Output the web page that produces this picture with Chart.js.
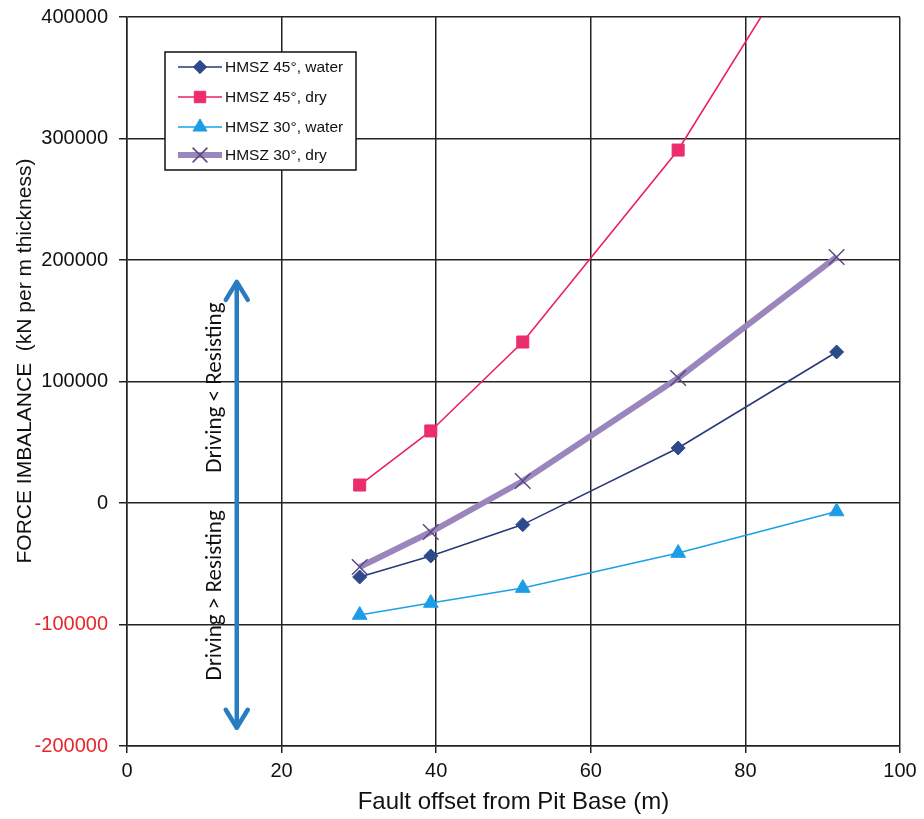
<!DOCTYPE html>
<html>
<head>
<meta charset="utf-8">
<script src="https://cdn.jsdelivr.net/npm/chart.js@4.4.1/dist/chart.umd.min.js"></script>
<style>
html,body{margin:0;padding:0;background:#fff;}
#wrap{position:relative;width:924px;height:819px;}
</style>
</head>
<body>
<div id="wrap"><canvas id="c" width="924" height="819"></canvas></div>
<script>
// ---- data ----
const faultOffset = [30.1, 39.3, 51.2, 71.3, 91.8];
const hmsz45Water = [-60900, -43600, -17800, 45300, 124300];
const hmsz45Dry   = [14800, 59300, 132500, 290500, 500000];
const hmsz30Water = [-92200, -82300, -70000, -41200, -7000];
const hmsz30Dry   = [-52700, -23900, 18100, 102900, 202500];
const seriesNames = ['HMSZ 45°, water', 'HMSZ 45°, dry', 'HMSZ 30°, water', 'HMSZ 30°, dry'];
const yTickValues = [-200000, -100000, 0, 100000, 200000, 300000, 400000];
const xTickValues = [0, 20, 40, 60, 80, 100];
const xTitle = 'Fault offset from Pit Base (m)';
const yTitle = '\u00A0\u00A0\u00A0\u00A0\u00A0\u00A0\u00A0FORCE IMBALANCE  (kN per m thickness)';
const arrowLabels = ['Driving < Resisting', 'Driving > Resisting'];

function pts(ys){ return faultOffset.map((x,i)=>({x:x, y:ys[i]})); }

const FONT = "'Liberation Sans', Arial, sans-serif";
const styles = [
  {line:'#283a78', fill:'#2f4a8c', pointStyle:'rectRot', r:7, bw:1.6, pbw:1},
  {line:'#ec1f64', fill:'#ec2d6c', pointStyle:'rect', r:8.5, bw:1.6, pbw:1},
  {line:'#1ea0e6', fill:'#1e9de6', pointStyle:'triangle', r:8.5, bw:1.6, pbw:1},
  {line:'#9a86bd', fill:'#5a4a80', pointStyle:'crossRot', r:11, bw:6, pbw:1.5}
];
const allSeries = [hmsz45Water, hmsz45Dry, hmsz30Water, hmsz30Dry];

const datasets = allSeries.map((ys,i)=>({
  label: seriesNames[i],
  data: pts(ys),
  borderColor: styles[i].line,
  borderWidth: styles[i].bw,
  backgroundColor: styles[i].fill,
  pointStyle: styles[i].pointStyle,
  pointRadius: styles[i].r,
  pointHoverRadius: styles[i].r,
  pointBackgroundColor: styles[i].fill,
  pointBorderColor: styles[i].fill,
  pointBorderWidth: styles[i].pbw,
  tension: 0,
  fill: false
}));

const legendPlugin = {
  id: 'boxLegend',
  afterDraw(chart){
    const ctx = chart.ctx;
    ctx.save();
    ctx.fillStyle = '#fff';
    ctx.fillRect(165, 52, 191, 118);
    ctx.strokeStyle = '#111';
    ctx.lineWidth = 1.5;
    ctx.strokeRect(165, 52, 191, 118);
    const rows = [67, 97, 127, 155];
    chart.data.datasets.forEach((ds,i)=>{
      const y = rows[i];
      ctx.strokeStyle = ds.borderColor;
      ctx.lineWidth = ds.borderWidth;
      ctx.beginPath(); ctx.moveTo(178, y); ctx.lineTo(222, y); ctx.stroke();
      ctx.fillStyle = ds.pointBackgroundColor;
      ctx.strokeStyle = ds.pointBorderColor;
      ctx.lineWidth = ds.pointBorderWidth;
      Chart.helpers.drawPoint(ctx, {pointStyle: ds.pointStyle, radius: ds.pointRadius*0.95, rotation:0, borderWidth: ds.pointBorderWidth}, 200, y);
      ctx.fillStyle = '#111';
      ctx.font = "15.5px " + FONT;
      ctx.textBaseline = 'middle';
      ctx.textAlign = 'left';
      ctx.fillText(ds.label, 225, y+1);
    });
    ctx.restore();
  }
};

const arrowPlugin = {
  id: 'arrow',
  afterDatasetsDraw(chart){
    const ctx = chart.ctx;
    const xs = chart.scales.x, ys = chart.scales.y;
    const x = xs.getPixelForValue(14.2);
    const yT = ys.getPixelForValue(182000);
    const yB = ys.getPixelForValue(-185000);
    ctx.save();
    ctx.strokeStyle = '#2a7cc2';
    ctx.lineWidth = 4.5;
    ctx.lineCap = 'round';
    ctx.lineJoin = 'round';
    ctx.beginPath(); ctx.moveTo(x, yT+2); ctx.lineTo(x, yB-2); ctx.stroke();
    ctx.beginPath(); ctx.moveTo(x-11, yT+18); ctx.lineTo(x, yT); ctx.lineTo(x+11, yT+18); ctx.stroke();
    ctx.beginPath(); ctx.moveTo(x-11, yB-18); ctx.lineTo(x, yB); ctx.lineTo(x+11, yB-18); ctx.stroke();
    ctx.fillStyle = '#111';
    ctx.font = "23px Carlito, Lato, 'Open Sans', sans-serif";
    ctx.textAlign = 'center';
    ctx.textBaseline = 'middle';
    const centers = [ys.getPixelForValue(95000), ys.getPixelForValue(-76000)];
    arrowLabels.forEach((t,i)=>{
      ctx.save();
      ctx.translate(x-22, centers[i]);
      ctx.rotate(-Math.PI/2);
      ctx.fillText(t, 0, 0);
      ctx.restore();
    });
    ctx.restore();
  }
};

new Chart(document.getElementById('c'), {
  type: 'line',
  data: { datasets },
  plugins: [arrowPlugin, legendPlugin],
  options: {
    responsive: false,
    animation: false,
    events: [],
    layout: { padding: { top: 17, right: 24, left: 0, bottom: 0 } },
    plugins: { legend: { display: false }, tooltip: { enabled: false } },
    scales: {
      x: {
        type: 'linear', min: 0, max: 100,
        afterBuildTicks(s){ s.ticks = xTickValues.map(v=>({value:v})); },
        afterFit(s){ s.height = 73; s.paddingLeft = 0; s.paddingRight = 0; },
        grid: { color: '#222', lineWidth: 1.5, tickLength: 7, drawTicks: true },
        border: { color: '#222', width: 1.5 },
        ticks: { color: '#111', font: { family: FONT, size: 20 }, padding: 6, maxRotation: 0 },
        title: { display: true, text: xTitle, color: '#111', font: { family: FONT, size: 24 }, padding: { top: 0, bottom: 2 } }
      },
      y: {
        type: 'linear', min: -200000, max: 400000,
        afterBuildTicks(s){ s.ticks = yTickValues.map(v=>({value:v})); },
        afterFit(s){ s.width = 127; s.paddingTop = 0; s.paddingBottom = 0; },
        grid: { color: '#222', lineWidth: 1.5, tickLength: 8 },
        border: { color: '#222', width: 1.5 },
        ticks: {
          font: { family: FONT, size: 20 }, padding: 11,
          color: (c)=> (c.tick && c.tick.value < 0) ? '#e8262a' : '#111',
          callback: (v)=> String(v)
        },
        title: { display: true, text: yTitle, color: '#111', font: { family: FONT, size: 21 }, padding: { top: 13, bottom: 0 } }
      }
    }
  }
});
</script>
</body>
</html>
